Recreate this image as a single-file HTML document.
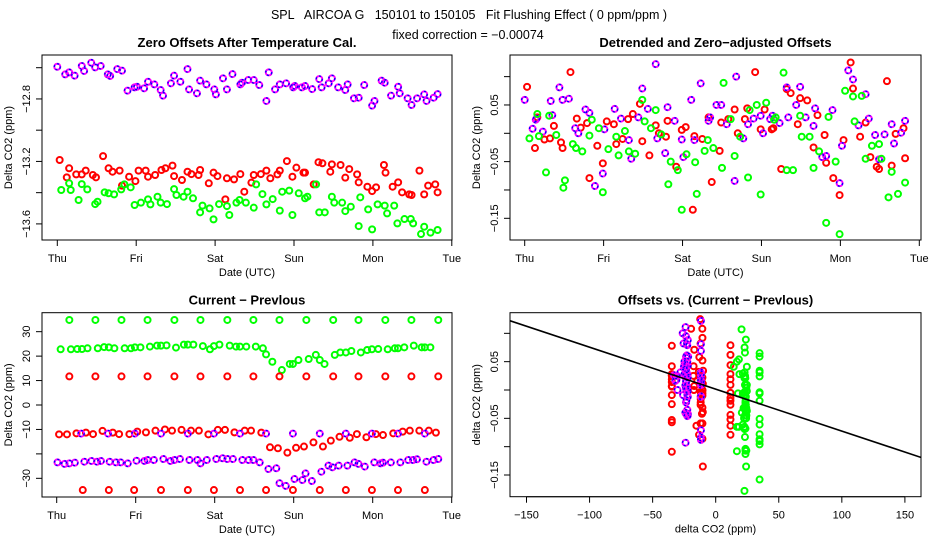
<!DOCTYPE html>
<html><head><meta charset="utf-8"><style>
html,body{margin:0;padding:0;background:#fff;}
svg{display:block;font-family:"Liberation Sans",sans-serif;}
.t{font-size:12.5px;fill:#000;white-space:pre;}
.pt{font-size:13px;font-weight:bold;fill:#000;}
.ax{font-size:11px;fill:#000;}
</style></head><body>
<svg id="chart" width="936" height="540" viewBox="0 0 936 540" xmlns="http://www.w3.org/2000/svg">
<rect width="936" height="540" fill="#fff"/>
<text class="t" x="469" y="19" text-anchor="middle" xml:space="preserve">SPL   AIRCOA G   150101 to 150105   Fit Flushing Effect ( 0 ppm/ppm )</text>
<text class="t" x="468" y="39" text-anchor="middle">fixed correction = −0.00074</text>
<g id="root"></g>
</svg>
<script>
// ---- Data: Zero offsets after temperature cal (days since Thu, ppm)
var tlPurpleT=[0,0.1,0.15,0.22,0.31,0.34,0.43,0.48,0.55,0.64,0.67,0.76,0.82,0.89,0.98,1.01,1.1,1.15,1.23,1.31,1.34,1.44,1.48,1.56,1.65,1.67,1.77,1.81,1.89,1.99,2.01,2.1,2.15,2.22,2.32,2.34,2.42,2.49,2.56,2.65,2.68,2.76,2.82,2.9,2.99,3.01,3.1,3.14,3.23,3.32,3.35,3.44,3.48,3.56,3.65,3.68,3.76,3.82,3.89,3.99,4.02,4.11,4.15,4.23,4.32,4.34,4.44,4.49,4.56,4.65,4.68,4.77,4.82];
var tlPurpleV=[-12.594,-12.643,-12.63,-12.651,-12.589,-12.621,-12.568,-12.598,-12.589,-12.643,-12.653,-12.609,-12.619,-12.747,-12.726,-12.722,-12.732,-12.69,-12.707,-12.743,-12.779,-12.7,-12.651,-12.69,-12.609,-12.739,-12.764,-12.683,-12.707,-12.739,-12.771,-12.668,-12.739,-12.641,-12.707,-12.696,-12.679,-12.679,-12.711,-12.813,-12.63,-12.739,-12.707,-12.7,-12.726,-12.717,-12.726,-12.717,-12.737,-12.673,-12.726,-12.7,-12.668,-12.726,-12.743,-12.707,-12.796,-12.792,-12.711,-12.843,-12.813,-12.683,-12.696,-12.779,-12.722,-12.764,-12.796,-12.839,-12.796,-12.771,-12.813,-12.792,-12.769];
var tlRedT=[0.03,0.12,0.15,0.24,0.31,0.36,0.45,0.49,0.58,0.65,0.7,0.79,0.82,0.91,0.99,1.03,1.12,1.15,1.24,1.32,1.37,1.46,1.48,1.58,1.65,1.7,1.79,1.81,1.92,1.98,2.03,2.13,2.15,2.24,2.32,2.37,2.46,2.49,2.58,2.65,2.7,2.79,2.82,2.91,2.98,3.03,3.12,3.14,3.25,3.31,3.36,3.46,3.48,3.59,3.65,3.7,3.8,3.82,3.93,3.99,4.04,4.14,4.16,4.25,4.32,4.37,4.46,4.49,4.59,4.65,4.7,4.79,4.82];
var tlRedV=[-13.191,-13.302,-13.244,-13.283,-13.283,-13.259,-13.287,-13.302,-13.166,-13.244,-13.266,-13.259,-13.355,-13.298,-13.326,-13.259,-13.259,-13.298,-13.287,-13.255,-13.244,-13.227,-13.294,-13.319,-13.266,-13.281,-13.287,-13.255,-13.34,-13.272,-13.294,-13.443,-13.308,-13.315,-13.281,-13.394,-13.336,-13.287,-13.281,-13.259,-13.308,-13.283,-13.259,-13.198,-13.298,-13.24,-13.272,-13.272,-13.347,-13.205,-13.212,-13.266,-13.219,-13.223,-13.304,-13.249,-13.283,-13.334,-13.362,-13.39,-13.366,-13.223,-13.272,-13.362,-13.334,-13.398,-13.411,-13.415,-13.259,-13.411,-13.355,-13.347,-13.398];
var tlGreenT=[0.05,0.15,0.17,0.27,0.31,0.38,0.48,0.51,0.6,0.65,0.72,0.81,0.85,0.93,0.98,1.06,1.15,1.18,1.27,1.31,1.39,1.48,1.51,1.6,1.65,1.72,1.81,1.84,1.93,1.98,2.05,2.15,2.18,2.27,2.31,2.39,2.49,2.52,2.6,2.65,2.73,2.82,2.85,2.94,2.98,3.06,3.14,3.17,3.28,3.32,3.39,3.48,3.51,3.61,3.65,3.72,3.82,3.84,3.94,3.99,4.06,4.15,4.18,4.27,4.31,4.4,4.48,4.51,4.61,4.65,4.73,4.82];
var tlGreenV=[-13.383,-13.34,-13.383,-13.447,-13.345,-13.379,-13.473,-13.458,-13.398,-13.404,-13.411,-13.379,-13.347,-13.366,-13.479,-13.464,-13.443,-13.475,-13.426,-13.464,-13.473,-13.377,-13.415,-13.426,-13.394,-13.436,-13.526,-13.483,-13.501,-13.571,-13.473,-13.486,-13.543,-13.464,-13.447,-13.464,-13.496,-13.347,-13.409,-13.475,-13.441,-13.515,-13.394,-13.387,-13.543,-13.404,-13.436,-13.426,-13.347,-13.526,-13.526,-13.426,-13.464,-13.464,-13.518,-13.49,-13.614,-13.43,-13.507,-13.635,-13.475,-13.483,-13.533,-13.483,-13.597,-13.569,-13.569,-13.597,-13.665,-13.618,-13.656,-13.639];
// ---- Data: Detrended and zero-adjusted offsets (ppm)
var trRedT=[0.03,0.13,0.16,0.25,0.32,0.37,0.46,0.48,0.58,0.66,0.71,0.79,0.82,0.92,0.99,1.04,1.13,1.16,1.24,1.31,1.37,1.46,1.49,1.58,1.66,1.7,1.79,1.81,1.92,1.99,2.04,2.13,2.15,2.25,2.33,2.37,2.47,2.49,2.58,2.66,2.7,2.79,2.82,2.92,2.99,3.04,3.13,3.15,3.25,3.32,3.37,3.46,3.49,3.58,3.66,3.71,3.8,3.82,3.91,3.99,4.04,4.13,4.16,4.25,4.32,4.38,4.46,4.49,4.59,4.65,4.7,4.8,4.82];
var trRedV=[0.082,-0.026,0.028,-0.011,-0.009,0.013,-0.016,-0.026,0.108,0.026,0.01,0.018,-0.079,-0.022,-0.053,0.021,0.016,-0.019,-0.01,0.025,0.034,0.052,-0.014,-0.039,0.014,0,-0.006,0.022,-0.059,0.006,0.011,-0.135,-0.005,-0.01,0.028,-0.086,-0.031,0.019,0.025,0.042,0,0.025,0.044,0.108,0.007,0.042,0.007,0.009,-0.063,0.078,0.071,0.016,0.062,0.058,-0.025,0.032,-0.003,-0.052,-0.079,-0.109,-0.012,0.125,0.079,-0.006,0.019,-0.042,-0.059,-0.063,0.092,-0.057,-0.001,0.009,-0.044];
var trPurpleT=[0,0.1,0.14,0.15,0.23,0.33,0.35,0.44,0.48,0.56,0.64,0.68,0.77,0.82,0.89,0.99,1.01,1.14,1.22,1.32,1.35,1.44,1.49,1.56,1.66,1.68,1.78,1.81,1.9,1.99,2.01,2.11,2.15,2.23,2.33,2.35,2.43,2.49,2.56,2.66,2.68,2.77,2.83,2.9,2.99,3.02,3.11,3.14,3.23,3.32,3.34,3.44,3.49,3.56,3.66,3.68,3.77,3.82,3.9,3.99,4.02,4.1,4.16,4.23,4.32,4.36,4.44,4.49,4.56,4.65,4.68,4.77,4.82];
var trPurpleV=[0.059,0.008,0.024,0.026,0.003,0.057,0.032,0.081,0.059,0.061,0.009,0,0.042,0.036,-0.093,-0.071,0.007,0.043,0.026,-0.012,-0.045,0.028,0.079,0.043,0.122,-0.009,-0.035,0.046,0.022,-0.011,-0.042,0.059,-0.012,0.088,0.022,0.028,0.05,0.05,0.016,-0.084,0.1,-0.009,0.016,0.026,0.031,0,0.025,0.031,0.018,0.081,0.028,0.05,0.082,0.028,0.013,0.044,-0.042,-0.04,0.041,-0.088,-0.022,0.111,0.095,0.014,0.069,0.026,-0.003,-0.046,-0.002,0.016,-0.018,0.001,0.022];
var trGreenT=[0.06,0.16,0.18,0.27,0.31,0.4,0.49,0.51,0.61,0.65,0.73,0.82,0.85,0.94,0.99,1.06,1.16,1.19,1.27,1.32,1.4,1.49,1.52,1.6,1.66,1.73,1.82,1.85,1.94,1.99,2.05,2.16,2.18,2.28,2.32,2.39,2.5,2.52,2.61,2.66,2.73,2.83,2.85,2.94,2.99,3.06,3.16,3.18,3.28,3.32,3.4,3.49,3.51,3.61,3.66,3.73,3.82,3.85,3.94,3.99,4.06,4.16,4.18,4.27,4.32,4.4,4.49,4.52,4.61,4.65,4.73,4.82];
var trGreenV=[-0.009,0.034,-0.005,-0.069,0.031,-0.003,-0.096,-0.083,-0.019,-0.026,-0.032,-0.004,0.024,0.009,-0.104,-0.028,-0.006,-0.039,0.004,-0.032,-0.036,0.059,0.021,0.009,0.041,-0.002,-0.09,-0.05,-0.065,-0.135,-0.037,-0.051,-0.107,-0.031,-0.012,-0.026,-0.061,0.089,0.025,-0.04,-0.006,-0.078,0.041,0.05,-0.108,0.054,0.024,0.028,0.107,-0.065,-0.065,0.031,-0.006,-0.006,-0.061,-0.032,-0.158,0.029,-0.05,-0.178,0.075,0.065,0.021,0.066,-0.045,-0.022,-0.019,-0.045,-0.113,-0.068,-0.107,-0.087];
// ---- Data: Current - Previous (ppm)
var blGreenT=[0.05,0.16,0.18,0.26,0.32,0.39,0.49,0.52,0.6,0.66,0.73,0.82,0.86,0.94,0.99,1.06,1.15,1.18,1.27,1.32,1.39,1.49,1.51,1.61,1.66,1.73,1.82,1.85,1.94,1.99,2.06,2.16,2.19,2.27,2.32,2.4,2.49,2.52,2.61,2.65,2.73,2.82,2.85,2.95,2.99,3.06,3.16,3.19,3.28,3.33,3.39,3.5,3.52,3.59,3.66,3.73,3.82,3.85,3.93,3.99,4.07,4.16,4.19,4.28,4.32,4.4,4.49,4.52,4.62,4.66,4.73,4.83];
var blGreenV=[22.8,34.8,22.8,22.9,22.9,23.2,34.8,23.2,23.7,23.6,23.2,34.8,23.2,23.2,23.6,23.6,34.8,23.9,24.3,24.3,24.4,34.8,23.5,24.7,24.7,24.7,34.8,24.1,22.8,24.1,24.7,34.8,24.3,23.9,23.9,23.9,34.8,23.9,23.2,20.7,17.7,34.8,14.3,16.8,16.8,18.4,34.8,18.8,20.5,18.4,16.8,34.8,20.5,21.5,21.5,22.1,34.8,21.5,22.5,22.8,22.9,34.8,22.8,23.2,23.2,23.6,34.8,24.3,23.6,23.6,23.6,34.8];
var blRedT=[0.03,0.13,0.16,0.25,0.33,0.37,0.46,0.49,0.58,0.66,0.71,0.79,0.82,0.92,0.98,1.02,1.13,1.15,1.25,1.32,1.37,1.46,1.49,1.58,1.66,1.7,1.8,1.82,1.92,1.99,2.04,2.13,2.16,2.25,2.32,2.38,2.46,2.49,2.59,2.65,2.7,2.8,2.82,2.92,2.99,3.03,3.13,3.16,3.25,3.33,3.37,3.47,3.5,3.58,3.66,3.71,3.8,3.82,3.92,3.99,4.04,4.13,4.16,4.26,4.32,4.38,4.47,4.49,4.59,4.66,4.71,4.8,4.83];
var blRedV=[-12,-12,11.7,-11.6,-34.8,-11.3,-11.9,11.7,-10.6,-34.8,-11.3,-11.9,11.7,-11.9,-34.8,-10.9,-11.2,11.7,-10.5,-34.8,-10,-10.5,11.7,-10.2,-34.8,-10.5,-10.5,11.7,-12,-34.8,-10.2,-10.2,11.7,-11.2,-34.8,-10.5,-10.5,11.7,-11.3,-34.8,-17.3,-17.7,11.7,-19.5,-34.8,-17.5,-17,11.7,-15.3,-34.8,-17,-14.6,11.7,-13,-34.8,-13.4,-11.9,11.7,-13.2,-34.8,-11.9,-12.3,11.7,-11.6,-34.8,-10.9,-10.5,11.7,-10.5,-34.8,-10.5,-11.3,11.7];
var blPurpleT=[0.01,0.1,0.16,0.23,0.31,0.35,0.44,0.51,0.56,0.65,0.67,0.75,0.81,0.9,0.99,1.01,1.11,1.15,1.23,1.32,1.35,1.44,1.49,1.56,1.66,1.68,1.78,1.82,1.9,1.99,2.02,2.1,2.16,2.23,2.32,2.35,2.43,2.49,2.57,2.65,2.68,2.78,2.82,2.9,2.99,3.01,3.11,3.15,3.23,3.33,3.35,3.44,3.49,3.57,3.66,3.68,3.77,3.82,3.9,3.99,4.02,4.1,4.13,4.23,4.32,4.35,4.45,4.51,4.56,4.66,4.68,4.77,4.83];
var blPurpleV=[-23.5,-24.1,-23.9,-23.6,-11.7,-23.2,-22.9,-23.2,-22.9,-11.7,-23.2,-23.5,-23.5,-23.9,-11.7,-22.8,-22.9,-22.5,-22.5,-11.7,-22.1,-22.9,-22.5,-22.1,-11.7,-22.5,-22.5,-23.9,-22.5,-11.7,-22.1,-21.8,-22.1,-22.1,-11.7,-22.5,-22.5,-22.5,-23.5,-11.7,-26.2,-25.9,-32,-33.1,-11.7,-30.3,-30.7,-28,-31.1,-11.7,-27.3,-24.8,-25.5,-24.8,-11.7,-24.8,-23.5,-24.1,-25.2,-11.7,-23.5,-23.9,-23.6,-23.5,-11.7,-23.5,-22.5,-22.5,-22.2,-11.7,-23.2,-22.5,-22.1];
// ---- Tick values
var dayLabels=["Thu","Fri","Sat","Sun","Mon","Tue"];
var tlTicks=[-12.6,-12.8,-13.0,-13.2,-13.4,-13.6];
var tlLabels=["","−12.8","","−13.2","","−13.6"];
var trTicks=[0.1,0.05,0,-0.05,-0.1,-0.15];
var trLabels=["","0.05","","−0.05","","−0.15"];
var blTicks=[30,20,10,0,-10,-20,-30];
var blLabels=["30","20","10","0","−10","","−30"];
var brXTicks=[-150,-100,-50,0,50,100,150];
var brXLabels=["−150","−100","−50","0","50","100","150"];
var fixedSlope=-0.00074, fixedIntercept=0.0015;

var NS="http://www.w3.org/2000/svg";
var root=document.getElementById('root');
function mk(tag,attrs,parent){var e=document.createElementNS(NS,tag);for(var k in attrs)e.setAttribute(k,attrs[k]);(parent||root).appendChild(e);return e;}
function txt(s,x,y,cls,anchor,rot){var e=mk('text',{x:x,y:y,'class':cls,'text-anchor':anchor||'middle'});if(rot)e.setAttribute('transform','rotate(-90 '+x+' '+y+')');e.textContent=s;return e;}

function panel(o){
  var g=mk('g',{});
  
  
  var box=mk('rect',{x:o.x0,y:o.y0,width:o.x1-o.x0,height:o.y1-o.y0,fill:'none',stroke:'#000','stroke-width':1},g);
  
  
  var t=txt(o.title,(o.x0+o.x1)/2,o.y0-8,'pt');g.appendChild(t);
  
  
  var xt=o.xticks;
  mk('line',{x1:o.sx(xt[0]),x2:o.sx(xt[xt.length-1]),y1:o.y1,y2:o.y1,stroke:'#000'},g);
  for(var i=0;i<xt.length;i++){var px=o.sx(xt[i]);mk('line',{x1:px,x2:px,y1:o.y1,y2:o.y1+6,stroke:'#000'},g);
    var l=txt(o.xlabels[i],px,o.y1+22,'ax');g.appendChild(l);
    
    }
  var xl=txt(o.xtitle,(o.x0+o.x1)/2,o.y1+36,'ax');g.appendChild(xl);
  
  
  var yt=o.yticks;
  mk('line',{x1:o.x0,x2:o.x0,y1:o.sy(yt[0]),y2:o.sy(yt[yt.length-1]),stroke:'#000'},g);
  for(var j=0;j<yt.length;j++){var py=o.sy(yt[j]);mk('line',{x1:o.x0-6,x2:o.x0,y1:py,y2:py,stroke:'#000'},g);
    if(o.ylabels[j]){var yl=txt(o.ylabels[j],o.x0-12,py,'ax','middle',true);g.appendChild(yl);
    
    }}
  var yti=txt(o.ytitle,o.x0-30,(o.y0+o.y1)/2,'ax','middle',true);g.appendChild(yti);
  
  
  return g;
}
function pt(g,x,y,color,name){
  if(color==='purple'){
    var a=mk('circle',{cx:x,cy:y,r:3,fill:'none',stroke:'#ff00ff','stroke-width':2},g);
    
    
    var b=mk('circle',{cx:x,cy:y,r:3,fill:'none',stroke:'#0000ff','stroke-width':1.4,'stroke-dasharray':'2 2.5'},g);
    
    
  } else {
    var c=mk('circle',{cx:x,cy:y,r:3,fill:'none',stroke:color,'stroke-width':2},g);
    
    
  }
}
var days=[0,1,2,3,4,5];
var tl={name:'zero-offsets-panel',title:'Zero Offsets After Temperature Cal.',x0:42,x1:452,y0:55,y1:240,
  sx:function(d){return 57.3+d*78.9;},sy:function(v){return 67.7+(-12.6-v)*156.2;},
  xticks:days,xlabels:dayLabels,yticks:tlTicks,ylabels:tlLabels,xtitle:'Date (UTC)',ytitle:'Delta CO2 (ppm)'};
var g1=panel(tl);
tlPurpleT.forEach(function(t,i){pt(g1,tl.sx(t),tl.sy(tlPurpleV[i]),'purple','zero-offset-point-purple');});
tlRedT.forEach(function(t,i){pt(g1,tl.sx(t),tl.sy(tlRedV[i]),'#ff0000','zero-offset-point-red');});
tlGreenT.forEach(function(t,i){pt(g1,tl.sx(t),tl.sy(tlGreenV[i]),'#00ff00','zero-offset-point-green');});
var tr={name:'detrended-offsets-panel',title:'Detrended and Zero\u2212adjusted Offsets',x0:510,x1:921,y0:55,y1:240,
  sx:function(d){return 524.7+d*78.92;},sy:function(v){return 133.3-v*566.7;},
  xticks:days,xlabels:dayLabels,yticks:trTicks,ylabels:trLabels,xtitle:'Date (UTC)',ytitle:'Delta CO2 (ppm)'};
var g2=panel(tr);
trRedT.forEach(function(t,i){pt(g2,tr.sx(t),tr.sy(trRedV[i]),'#ff0000','detrended-point-red');});
trPurpleT.forEach(function(t,i){pt(g2,tr.sx(t),tr.sy(trPurpleV[i]),'purple','detrended-point-purple');});
trGreenT.forEach(function(t,i){pt(g2,tr.sx(t),tr.sy(trGreenV[i]),'#00ff00','detrended-point-green');});
var bl={name:'current-minus-previous-panel',title:'Current \u2212 Prevlous',x0:42,x1:452,y0:312.7,y1:497,
  sx:function(d){return 56.7+d*79.0;},sy:function(v){return 405-v*2.444;},
  xticks:days,xlabels:dayLabels,yticks:blTicks,ylabels:blLabels,xtitle:'Date (UTC)',ytitle:'Delta CO2 (ppm)'};
var g3=panel(bl);
blGreenT.forEach(function(t,i){pt(g3,bl.sx(t),bl.sy(blGreenV[i]),'#00ff00','diff-point-green');});
blRedT.forEach(function(t,i){pt(g3,bl.sx(t),bl.sy(blRedV[i]),'#ff0000','diff-point-red');});
blPurpleT.forEach(function(t,i){pt(g3,bl.sx(t),bl.sy(blPurpleV[i]),'purple','diff-point-purple');});
var br={name:'offsets-vs-diff-panel',title:'Offsets vs. (Current \u2212 Prevlous)',x0:510,x1:921,y0:312.7,y1:496.7,
  sx:function(x){return 715.7+x*1.2613;},sy:function(v){return 390-v*566.7;},
  xticks:brXTicks,xlabels:brXLabels,yticks:trTicks,ylabels:trLabels,xtitle:'delta CO2 (ppm)',ytitle:'delta CO2 (ppm)'};
var g4=panel(br);
function nearest(tArr,t){var b=0,bd=1e9;for(var i=0;i<tArr.length;i++){var d=Math.abs(tArr[i]-t);if(d<bd){bd=d;b=i;}}return b;}
function scat(T,V,BT,BV,color,name){T.forEach(function(t,i){var k=nearest(BT,t);pt(g4,br.sx(BV[k]),br.sy(V[i]),color,name);});}
scat(trRedT,trRedV,blRedT,blRedV,'#ff0000','scatter-point-red');
scat(trPurpleT,trPurpleV,blPurpleT,blPurpleV,'purple','scatter-point-purple');
scat(trGreenT,trGreenV,blGreenT,blGreenV,'#00ff00','scatter-point-green');
var cp=mk('clipPath',{id:'brclip'},g4);mk('rect',{x:510,y:312.7,width:411,height:184},cp);
var fl=mk('line',{x1:br.sx(-170),y1:br.sy(fixedIntercept+fixedSlope*-170),x2:br.sx(170),y2:br.sy(fixedIntercept+fixedSlope*170),stroke:'#000','stroke-width':1.6,'clip-path':'url(#brclip)'},g4);


</script>
</body></html>
